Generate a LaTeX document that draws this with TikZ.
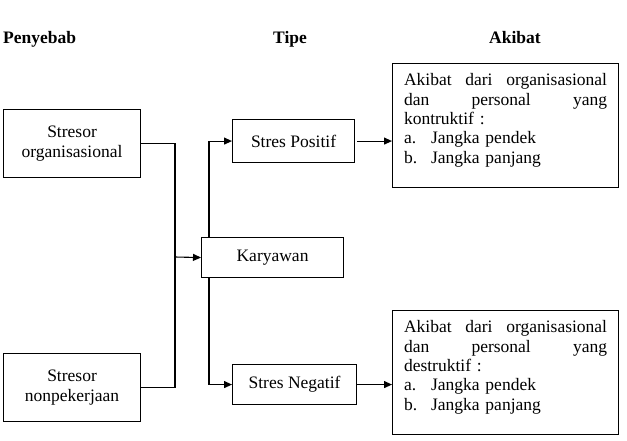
\documentclass[tikz,border=0pt]{standalone}
\usepackage{fontspec}
\setmainfont{Liberation Serif}
\usetikzlibrary{arrows.meta}
\begin{document}
\begin{tikzpicture}[x=1pt,y=-1pt,
  box/.style={draw, line width=1.1pt, inner sep=0pt, align=center, anchor=north west,
    font=\fontsize{17.5}{20}\selectfont},
  resbox/.style={draw, line width=1.1pt, inner xsep=11.5pt, inner ysep=10pt, align=left,
    anchor=north west, text width=203pt, font=\fontsize{17.5}{19.4}\selectfont},
  head/.style={font=\fontsize{17.5}{20}\selectfont\bfseries, inner sep=0pt},
  conn/.style={line width=1.1pt},
  arr/.style={line width=1.1pt, -{Triangle[length=8pt,width=7pt]}}]
\useasboundingbox (0,0) rectangle (627,440);

\node[head, anchor=base west] (h1) at (3,43) {Penyebab};
\node[head, anchor=base] (h2) at (290,43) {Tipe};
\node[head, anchor=base] (h3) at (515,43) {Akibat};

\node[box, minimum width=137pt, minimum height=68pt] (org) at (3,109) {Stresor\\organisasional};
\node[box, minimum width=137pt, minimum height=68pt] (nonpek) at (3,353) {Stresor\\nonpekerjaan};
\node[box, minimum width=142pt, minimum height=40pt] (kary) at (201,237) {Karyawan};
\node[box, minimum width=122pt, minimum height=43pt] (pos) at (232,119) {Stres Positif};
\node[box, minimum width=124pt, minimum height=40pt] (neg) at (232,364) {Stres Negatif};

\node[resbox] (akpos) at (392,63) {\makebox[203pt][s]{Akibat\hfill dari\hfill organisasional}\\
\makebox[203pt][s]{dan\hfill personal\hfill yang}\\
kontruktif :\\
\makebox[27pt][l]{a.}Jangka pendek\\
\makebox[27pt][l]{b.}Jangka panjang\rule[-14pt]{0pt}{14pt}};

\node[resbox] (akneg) at (392,310) {\makebox[203pt][s]{Akibat\hfill dari\hfill organisasional}\\
\makebox[203pt][s]{dan\hfill personal\hfill yang}\\
destruktif :\\
\makebox[27pt][l]{a.}Jangka pendek\\
\makebox[27pt][l]{b.}Jangka panjang\rule[-14pt]{0pt}{14pt}};

\coordinate (j) at (175,257);
\draw[conn] (org.east) -| (j);
\draw[conn] (nonpek.east) -| (j);
\draw[arr] (j) -- (kary.west);
\draw[arr] ([xshift=8pt]kary.north west) |- (pos.west);
\draw[arr] ([xshift=8pt]kary.south west) |- (neg.west);
\draw[arr] ([xshift=2pt]pos.east) -- (pos.east -| akpos.west);
\draw[arr] (neg.east) -- (neg.east -| akneg.west);
\end{tikzpicture}
\end{document}
